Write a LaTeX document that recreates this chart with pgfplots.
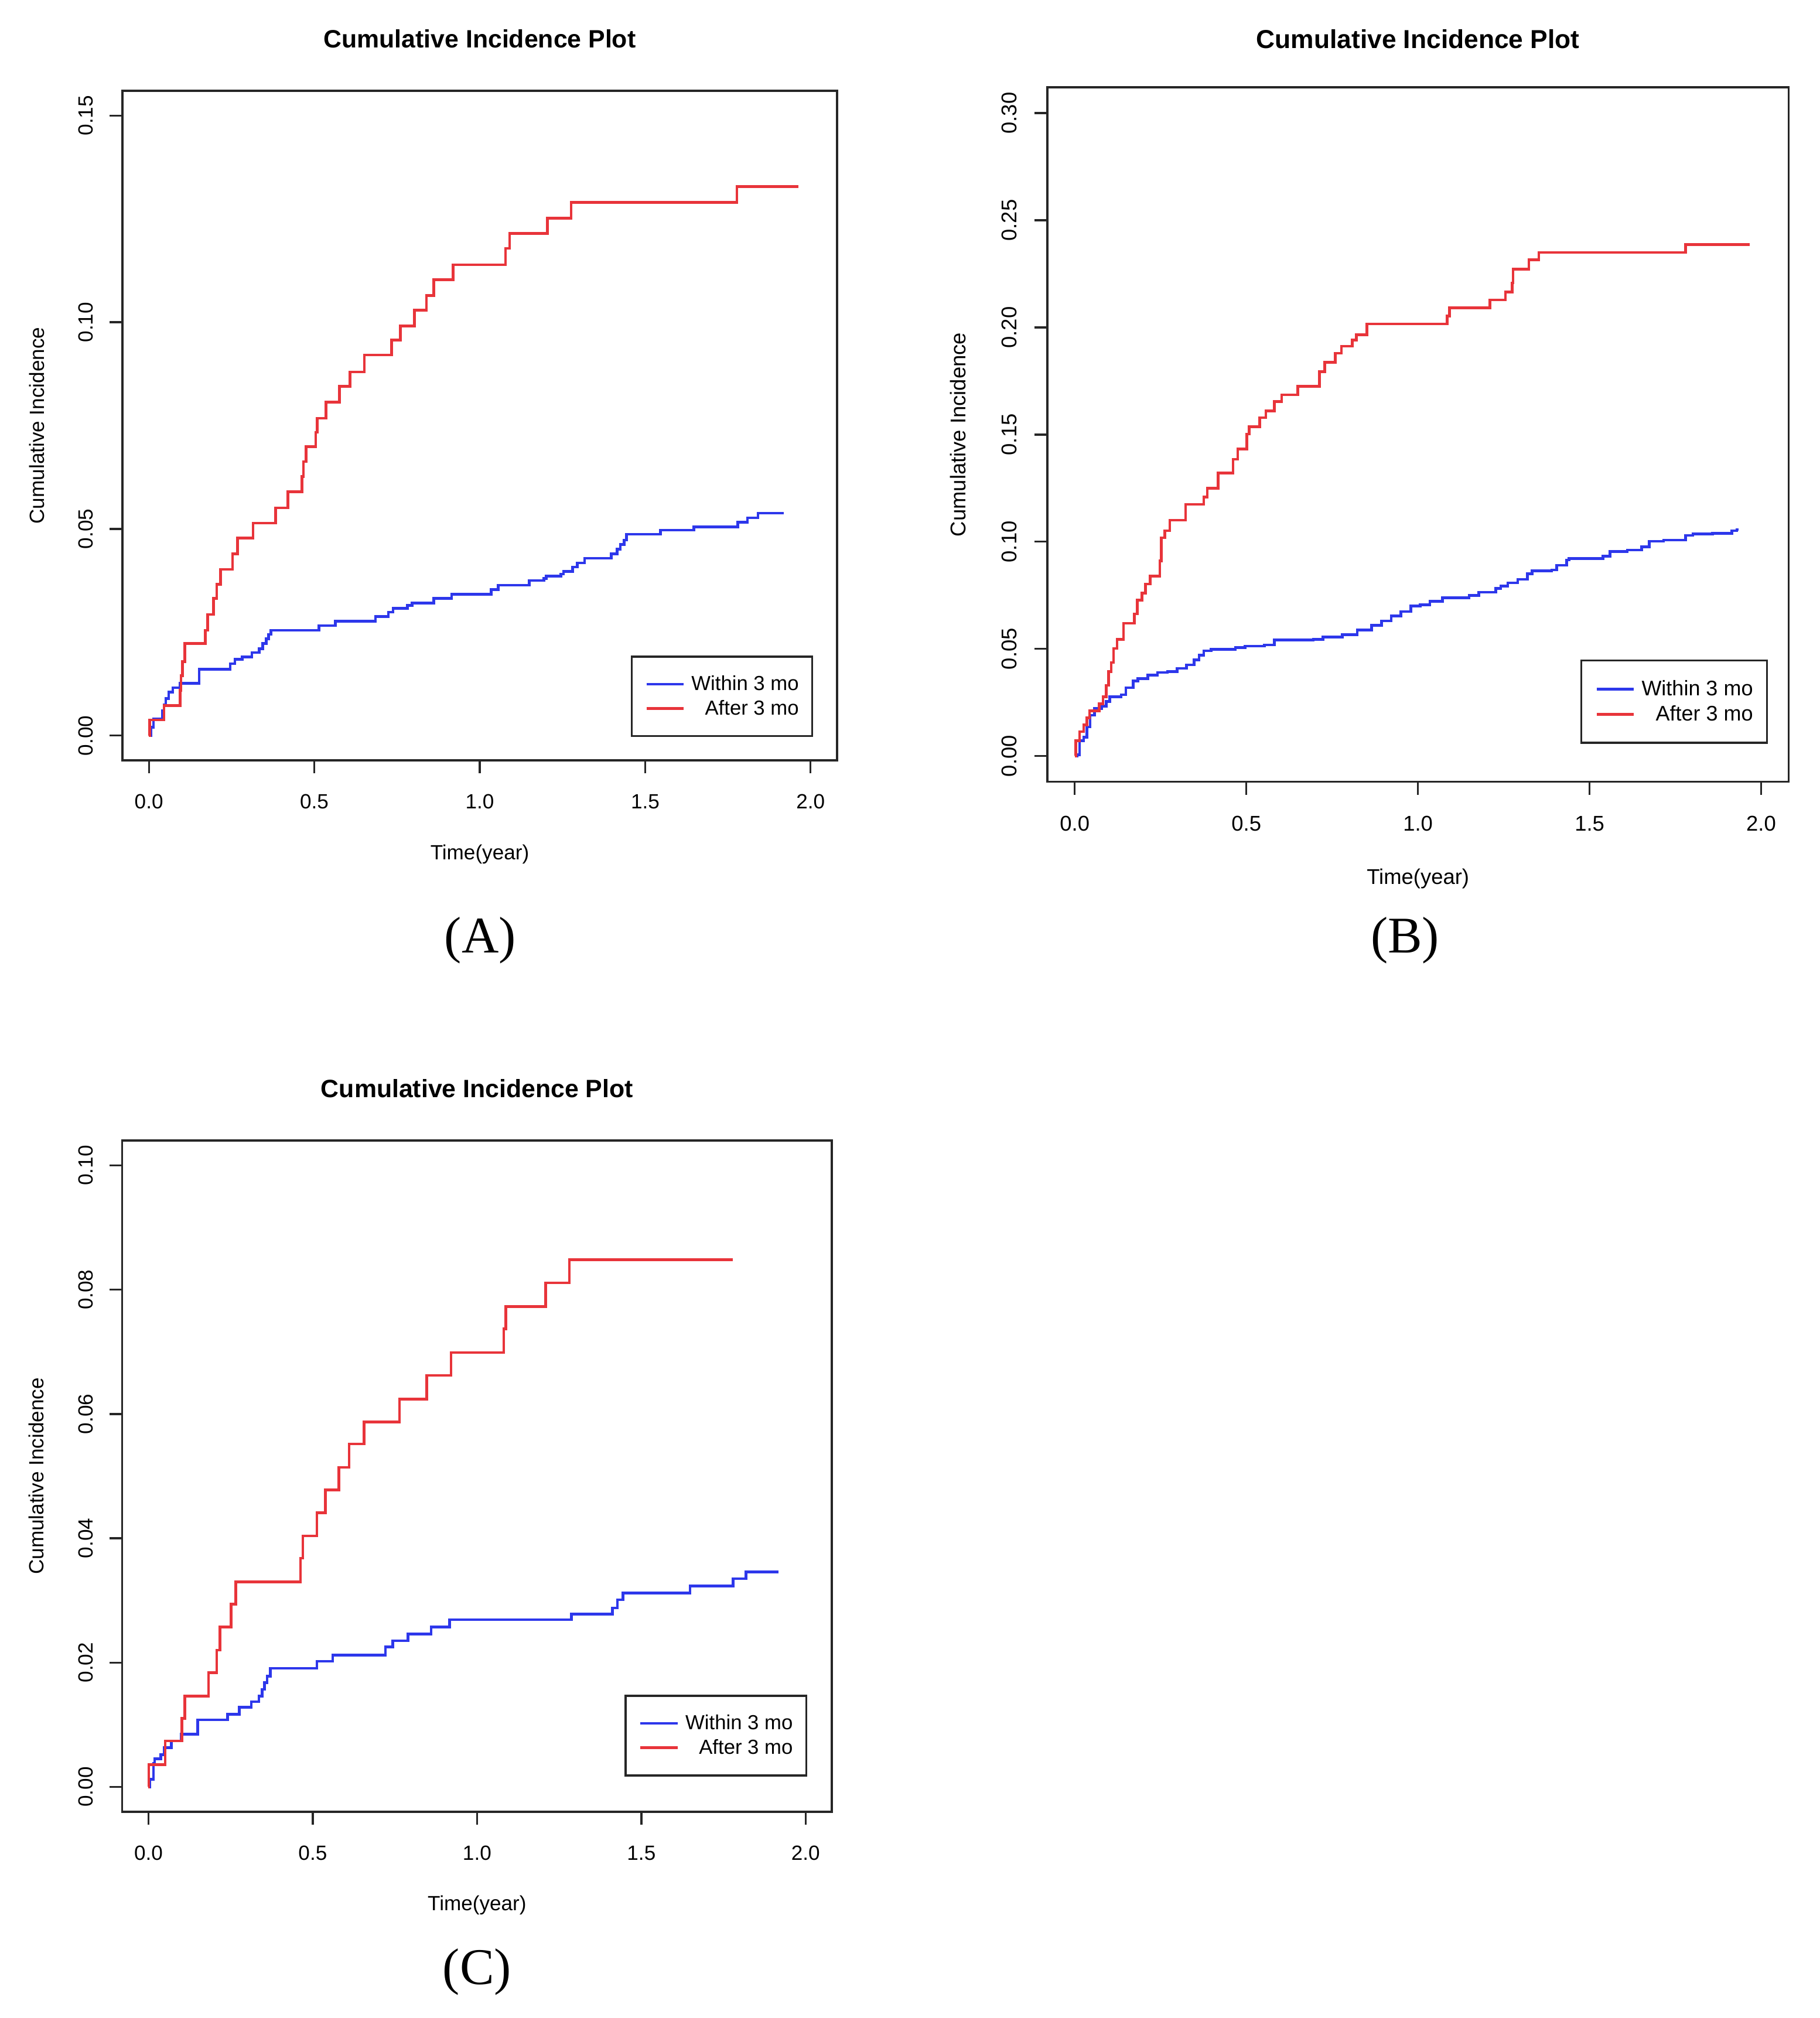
\documentclass[border=0pt]{standalone}
\usepackage{pgfplots}
\pgfplotsset{compat=1.18}
\usepackage{fontspec}
\setmainfont{Liberation Sans}
\newfontfamily\serifpanel{Liberation Serif}
\definecolor{rblue}{RGB}{45,55,235}
\definecolor{rred}{RGB}{232,52,58}

\pgfplotsset{
  cipcommon/.style={
    scale only axis,
    xmin=-0.08, xmax=2.08,
    axis line style={line width=1.6pt, draw=black!85},
    tick style={line width=1.5pt, black!85},
    tick align=outside,
    tick pos=left,
    major tick length=10pt,
    scaled ticks=false,
    xtick={0,0.5,1,1.5,2},
    /pgf/number format/assume math mode=true,
    xticklabel style={/pgf/number format/fixed, /pgf/number format/fixed zerofill, /pgf/number format/precision=1, anchor=base},
    yticklabel style={/pgf/number format/fixed, /pgf/number format/fixed zerofill, /pgf/number format/precision=2, rotate=90, anchor=base},
    title={Cumulative Incidence Plot},
    xlabel={Time(year)},
    ylabel={Cumulative Incidence},
    title style={at={(axis description cs:0.5,1)}, anchor=base},
    xlabel style={at={(axis description cs:0.5,0)}, anchor=base},
    ylabel style={at={(axis description cs:0,0.5)}, anchor=base},
    legend cell align=right,
    legend image code/.code={\draw[#1, line width=2pt] (0pt,0pt) -- (29pt,0pt);},
    legend style={anchor=north west, draw=black!85, line width=1.6pt, fill=white, column sep=5pt, nodes={inner sep=0pt}},
  },
  cipAC/.style={cipcommon,
    tick label style={font=\fontsize{16}{19}\selectfont},
    xticklabel style={yshift=-27.5pt},
    yticklabel style={yshift=13pt},
    title style={yshift=27.4pt, font=\fontsize{19.5}{23}\selectfont\bfseries},
    label style={font=\fontsize{16}{19}\selectfont},
    xlabel style={yshift=-77pt},
    ylabel style={yshift=61pt},
    legend style={font=\fontsize{15.8}{19}\selectfont, inner xsep=10.5pt, inner ysep=15pt, row sep=6pt},
  },
  cipB/.style={cipcommon,
    tick label style={font=\fontsize{16.6}{19.7}\selectfont},
    xticklabel style={yshift=-28.4pt},
    yticklabel style={yshift=14pt},
    title style={yshift=24.4pt, font=\fontsize{20.2}{24}\selectfont\bfseries},
    label style={font=\fontsize{16.6}{19.7}\selectfont},
    xlabel style={yshift=-79.8pt},
    ylabel style={yshift=63.3pt},
    legend style={font=\fontsize{16.4}{19.7}\selectfont, inner xsep=10.9pt, inner ysep=15.5pt, row sep=6.2pt},
  },
  blueline/.style={const plot, rblue, line width=2.1pt},
  redline/.style={const plot, rred, line width=2.1pt},
}

\begin{document}
\begin{tikzpicture}
\path[use as bounding box, fill=white] (0pt,0pt) rectangle (1415pt,1569.4pt);

% ---------------- Panel A ----------------
\begin{axis}[cipAC,
  at={(95.2pt,978.0pt)}, anchor=south west,
  width=555.8pt, height=520.8pt,
  ymin=-0.006, ymax=0.156,
  ytick={0,0.05,0.10,0.15},
  legend style={at={(axis description cs:0.7112,0.1567)}},
]
\addplot[blueline] coordinates {
(0,0) (0.007,0.0020) (0.014,0.0040) (0.041,0.0060) (0.046,0.0075) (0.051,0.0090)
(0.060,0.0105) (0.072,0.0116) (0.094,0.0127) (0.152,0.0161) (0.246,0.0174)
(0.260,0.0185) (0.282,0.0190) (0.311,0.0201) (0.333,0.0210) (0.344,0.0223)
(0.355,0.0234) (0.362,0.0245) (0.369,0.0255) (0.514,0.0266) (0.564,0.0277)
(0.685,0.0288) (0.724,0.0299) (0.738,0.0308) (0.781,0.0315) (0.796,0.0321)
(0.861,0.0332) (0.915,0.0342) (1.035,0.0353) (1.056,0.0364) (1.150,0.0375)
(1.194,0.0380) (1.201,0.0386) (1.245,0.0391) (1.253,0.0397) (1.281,0.0408)
(1.295,0.0418) (1.317,0.0429) (1.397,0.0440) (1.415,0.0451) (1.425,0.0462)
(1.436,0.0473) (1.443,0.0487) (1.546,0.0497) (1.647,0.0505) (1.780,0.0516)
(1.809,0.0527) (1.841,0.0538) (1.918,0.0538)
};
\addlegendentry{Within 3 mo}
\addplot[redline] coordinates {
(0,0) (0.002,0.0038) (0.046,0.0073) (0.094,0.0110) (0.097,0.0145) (0.101,0.0179)
(0.109,0.0223) (0.171,0.0255) (0.178,0.0293) (0.195,0.0332) (0.205,0.0366)
(0.217,0.0402) (0.253,0.0440) (0.268,0.0478) (0.315,0.0514) (0.383,0.0551)
(0.420,0.0590) (0.463,0.0627) (0.467,0.0663) (0.475,0.0699) (0.504,0.0734)
(0.509,0.0768) (0.535,0.0807) (0.576,0.0845) (0.608,0.0880) (0.651,0.0921)
(0.734,0.0957) (0.760,0.0991) (0.803,0.1029) (0.839,0.1065) (0.861,0.1103)
(0.919,0.1139) (1.078,0.1179) (1.090,0.1215) (1.204,0.1252) (1.276,0.1290)
(1.777,0.1328) (1.964,0.1328)
};
\addlegendentry{After 3 mo}
\end{axis}

% ---------------- Panel B ----------------
\begin{axis}[cipB,
  at={(814.5pt,961.4pt)}, anchor=south west,
  width=576.5pt, height=540pt,
  ymin=-0.012, ymax=0.312,
  ytick={0,0.05,0.10,0.15,0.20,0.25,0.30},
  legend style={at={(axis description cs:0.719,0.176)}},
]
\addplot[blueline] coordinates {
(0,0) (0.007,0.0006) (0.014,0.0071) (0.026,0.0088) (0.035,0.0136) (0.045,0.0190)
(0.057,0.0222) (0.078,0.0233) (0.092,0.0254) (0.102,0.0276) (0.135,0.0286)
(0.149,0.0319) (0.170,0.0351) (0.184,0.0362) (0.213,0.0377) (0.241,0.0390)
(0.270,0.0394) (0.298,0.0409) (0.326,0.0426) (0.348,0.0448) (0.362,0.0470)
(0.376,0.0491) (0.397,0.0498) (0.468,0.0506) (0.496,0.0513) (0.553,0.0519)
(0.582,0.0541) (0.695,0.0545) (0.723,0.0556) (0.780,0.0566) (0.823,0.0588)
(0.865,0.0610) (0.894,0.0631) (0.922,0.0653) (0.950,0.0674) (0.979,0.0700)
(1.007,0.0706) (1.035,0.0722) (1.071,0.0739) (1.149,0.0750) (1.177,0.0765)
(1.227,0.0782) (1.241,0.0793) (1.262,0.0808) (1.291,0.0825) (1.319,0.0851)
(1.333,0.0864) (1.390,0.0868) (1.404,0.0890) (1.433,0.0915) (1.440,0.0922)
(1.539,0.0933) (1.560,0.0954) (1.610,0.0961) (1.652,0.0976) (1.674,0.1002)
(1.716,0.1008) (1.780,0.1030) (1.801,0.1036) (1.858,0.1040) (1.915,0.1051)
(1.929,0.1057) (1.935,0.1057)
};
\addlegendentry{Within 3 mo}
\addplot[redline] coordinates {
(0,0) (0.003,0.0071) (0.014,0.0114) (0.026,0.0146) (0.035,0.0179) (0.043,0.0211)
(0.071,0.0243) (0.082,0.0276) (0.092,0.0330) (0.099,0.0394) (0.106,0.0437)
(0.113,0.0502) (0.123,0.0545) (0.142,0.0620) (0.174,0.0663) (0.182,0.0728)
(0.196,0.0760) (0.206,0.0803) (0.220,0.0840) (0.248,0.0911) (0.252,0.1019)
(0.262,0.1051) (0.277,0.1101) (0.323,0.1174) (0.376,0.1208) (0.386,0.1249)
(0.418,0.1320) (0.461,0.1385) (0.475,0.1432) (0.501,0.1503) (0.508,0.1536)
(0.539,0.1579) (0.557,0.1611) (0.582,0.1654) (0.603,0.1686) (0.650,0.1725)
(0.713,0.1794) (0.728,0.1837) (0.759,0.1880) (0.777,0.1913) (0.809,0.1941)
(0.820,0.1966) (0.851,0.2016) (1.085,0.2053) (1.092,0.2091) (1.210,0.2128)
(1.255,0.2165) (1.274,0.2208) (1.277,0.2272) (1.323,0.2315) (1.352,0.2350)
(1.780,0.2386) (1.967,0.2386)
};
\addlegendentry{After 3 mo}
\end{axis}

% ---------------- Panel C ----------------
\begin{axis}[cipAC,
  at={(95pt,160.4pt)}, anchor=south west,
  width=552pt, height=522pt,
  ymin=-0.004, ymax=0.104,
  ytick={0,0.02,0.04,0.06,0.08,0.10},
  legend style={at={(axis description cs:0.708,0.1743)}},
]
\addplot[blueline] coordinates {
(0,0) (0.004,0.0012) (0.015,0.0038) (0.019,0.0045) (0.038,0.0052) (0.048,0.0063)
(0.070,0.0074) (0.099,0.0085) (0.150,0.0108) (0.241,0.0117) (0.276,0.0128)
(0.313,0.0137) (0.336,0.0146) (0.346,0.0157) (0.353,0.0168) (0.361,0.0178)
(0.371,0.0191) (0.513,0.0202) (0.561,0.0212) (0.721,0.0225) (0.743,0.0235)
(0.790,0.0246) (0.860,0.0257) (0.916,0.0269) (1.287,0.0278) (1.412,0.0288)
(1.427,0.0301) (1.444,0.0312) (1.648,0.0323) (1.779,0.0335) (1.818,0.0346)
(1.917,0.0346)
};
\addlegendentry{Within 3 mo}
\addplot[redline] coordinates {
(0,0) (0.001,0.0036) (0.051,0.0074) (0.102,0.0110) (0.111,0.0146) (0.183,0.0184)
(0.208,0.0220) (0.218,0.0257) (0.252,0.0294) (0.266,0.0330) (0.463,0.0368)
(0.470,0.0404) (0.513,0.0441) (0.538,0.0478) (0.579,0.0514) (0.611,0.0552)
(0.656,0.0587) (0.764,0.0624) (0.847,0.0662) (0.921,0.0699) (1.081,0.0737)
(1.088,0.0773) (1.209,0.0811) (1.281,0.0848) (1.779,0.0848)
};
\addlegendentry{After 3 mo}
\end{axis}

\node[anchor=base, font=\serifpanel\fontsize{40}{48}\selectfont] at (373.5pt,828.4pt) {(A)};
\node[anchor=base, font=\serifpanel\fontsize{40}{48}\selectfont] at (1092.7pt,828.3pt) {(B)};
\node[anchor=base, font=\serifpanel\fontsize{40}{48}\selectfont] at (371pt,26.4pt) {(C)};
\end{tikzpicture}
\end{document}
